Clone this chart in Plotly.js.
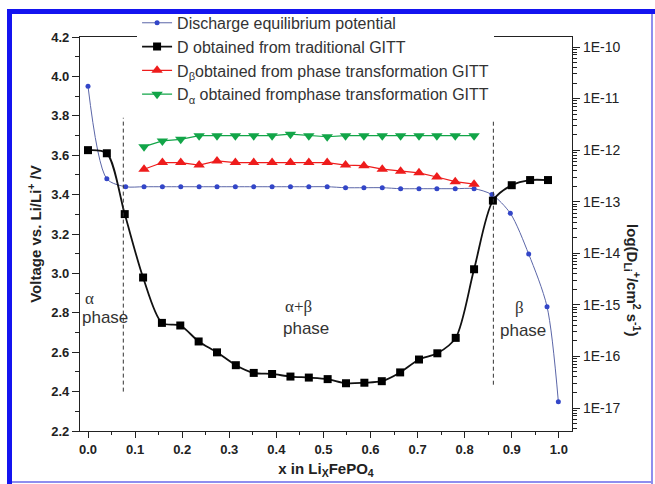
<!DOCTYPE html>
<html>
<head>
<meta charset="utf-8">
<script src="https://cdn.plot.ly/plotly-3.0.1.min.js"></script>
<style>
  html, body { margin: 0; padding: 0; background: #ffffff; }
  #wrap { position: relative; width: 655px; height: 484px; overflow: hidden; }
  #chart { width: 655px; height: 484px; }
  .frame { position: absolute; pointer-events: none; }
</style>
</head>
<body>
<div id="wrap">
  <div id="chart"></div>
  <div class="frame" style="left:7px;top:9px;width:648px;height:5px;background:#1414f0;"></div>
  <div class="frame" style="left:7px;top:9px;width:5px;height:475px;background:#1414f0;"></div>
  <div class="frame" style="left:651px;top:14px;width:2px;height:470px;background:#8e8eee;"></div>
  <div class="frame" style="left:12px;top:481px;width:641px;height:2px;background:#8e8eee;"></div>
</div>
<script>
// ---- data ----
const voltX = [0, 0.04, 0.08, 0.119, 0.158, 0.197, 0.236, 0.274, 0.313, 0.352, 0.391, 0.430, 0.469, 0.508,
               0.547, 0.586, 0.625, 0.664, 0.703, 0.741, 0.780, 0.820, 0.858, 0.897, 0.936, 0.975, 0.999];
const voltY = [3.95, 3.48, 3.44, 3.44, 3.44, 3.44, 3.44, 3.44, 3.44, 3.44, 3.44, 3.44, 3.44, 3.44,
               3.435, 3.435, 3.435, 3.43, 3.43, 3.43, 3.43, 3.43, 3.40, 3.305, 3.098, 2.831, 2.349];

const gittX = [0, 0.04, 0.078, 0.117, 0.157, 0.196, 0.235, 0.274, 0.314, 0.352, 0.391, 0.430, 0.469,
               0.509, 0.548, 0.587, 0.624, 0.663, 0.703, 0.742, 0.781, 0.820, 0.860, 0.900, 0.939, 0.977];
const gittD = [1.0e-12, 8.7e-13, 5.75e-14, 3.39e-15, 4.47e-16, 3.98e-16, 1.95e-16, 1.20e-16, 6.76e-17,
               4.79e-17, 4.57e-17, 4.07e-17, 3.89e-17, 3.63e-17, 3.02e-17, 3.09e-17, 3.31e-17, 4.90e-17,
               8.71e-17, 1.15e-16, 2.29e-16, 4.90e-15, 1.05e-13, 2.09e-13, 2.63e-13, 2.63e-13];

const phaseX = [0.119, 0.158, 0.197, 0.236, 0.274, 0.313, 0.352, 0.391, 0.430, 0.469, 0.508, 0.547,
                0.586, 0.625, 0.664, 0.703, 0.741, 0.780, 0.820];
const dBeta  = [4.27e-13, 5.75e-13, 5.75e-13, 5.13e-13, 6.17e-13, 5.75e-13, 5.75e-13, 5.75e-13, 5.75e-13,
                5.75e-13, 5.75e-13, 5.13e-13, 5.01e-13, 4.27e-13, 3.89e-13, 3.63e-13, 3.02e-13, 2.45e-13, 2.19e-13];
const dAlpha = [1.17e-12, 1.51e-12, 1.62e-12, 1.91e-12, 1.91e-12, 1.91e-12, 1.91e-12, 1.91e-12, 2.04e-12,
                1.91e-12, 1.82e-12, 1.91e-12, 1.91e-12, 1.91e-12, 1.91e-12, 1.91e-12, 1.91e-12, 1.91e-12, 1.91e-12];

const seriesNames = [
  'Discharge equilibrium potential',
  'D obtained from traditional GITT',
  'D<sub>β</sub>obtained from phase transformation GITT',
  'D<sub>α</sub> obtained fromphase transformation GITT'
];

const xTickVals = [0, 0.1, 0.2, 0.3, 0.4, 0.5, 0.6, 0.7, 0.8, 0.9, 1.0];
const xTickText = ['0.0', '0.1', '0.2', '0.3', '0.4', '0.5', '0.6', '0.7', '0.8', '0.9', '1.0'];
const vTickVals = [2.2, 2.4, 2.6, 2.8, 3.0, 3.2, 3.4, 3.6, 3.8, 4.0, 4.2];
const vTickText = ['2.2', '2.4', '2.6', '2.8', '3.0', '3.2', '3.4', '3.6', '3.8', '4.0', '4.2'];
const dTickVals = [1e-17, 1e-16, 1e-15, 1e-14, 1e-13, 1e-12, 1e-11, 1e-10];
const dTickText = ['1E-17', '1E-16', '1E-15', '1E-14', '1E-13', '1E-12', '1E-11', '1E-10'];
const dDecades = [-18, -17, -16, -15, -14, -13, -12, -11, -10];
const dMantissas = [2, 3, 4, 5, 6, 7, 8, 9];
const dMinorTicks = [];
dDecades.forEach(d => dMantissas.forEach(m => dMinorTicks.push(m * Math.pow(10, d))));

const phaseBoundX = [0.075, 0.861];
const phaseBoundTop = [3.79, 3.77];
const phaseBoundBottom = [2.40, 2.435];

const phaseLabels = [
  {text: 'α', x: 0.004, y: 2.875, serif: true},
  {text: 'phase', x: 0.037, y: 2.775, serif: false},
  {text: 'α+β', x: 0.448, y: 2.832, serif: true},
  {text: 'phase', x: 0.464, y: 2.722, serif: false},
  {text: 'β', x: 0.917, y: 2.826, serif: true},
  {text: 'phase', x: 0.924, y: 2.708, serif: false}
];

// ---- traces ----
const traces = [
  {
    x: voltX, y: voltY, name: seriesNames[0], yaxis: 'y', type: 'scatter', mode: 'lines+markers',
    line: {color: '#5b66a8', width: 1, shape: 'spline', smoothing: 0.8},
    marker: {symbol: 'circle', size: 5, color: '#3346c8'}
  },
  {
    x: gittX, y: gittD, name: seriesNames[1], yaxis: 'y2', type: 'scatter', mode: 'lines+markers',
    line: {color: '#111111', width: 1.8, shape: 'spline', smoothing: 0.8},
    marker: {symbol: 'square', size: 8, color: '#000000'}
  },
  {
    x: phaseX, y: dBeta, name: seriesNames[2], yaxis: 'y2', type: 'scatter', mode: 'lines+markers',
    line: {color: '#ee1c1c', width: 1.2},
    marker: {symbol: 'triangle-up', size: 10, color: '#ee1c1c'}
  },
  {
    x: phaseX, y: dAlpha, name: seriesNames[3], yaxis: 'y2', type: 'scatter', mode: 'lines+markers',
    line: {color: '#12a548', width: 1.2},
    marker: {symbol: 'triangle-down', size: 10, color: '#12a548'}
  }
];

const shapes = phaseBoundX.map((xv, i) => ({
  type: 'line', xref: 'x', yref: 'y', x0: xv, x1: xv, y0: phaseBoundBottom[i], y1: phaseBoundTop[i],
  line: {color: '#333333', width: 1, dash: '4px,3px'}
}));

const annotations = phaseLabels.map(p => ({
  text: p.text, x: p.x, y: p.y, xref: 'x', yref: 'y', showarrow: false,
  font: {family: p.serif ? '"Liberation Serif", "DejaVu Serif", serif' : 'Arial, "Liberation Sans", sans-serif',
         size: 17, color: '#333333'}
}));
annotations.push({
  text: '<b>log(D<sub>Li</sub><sup>+</sup>/cm<sup>2</sup> s<sup>-1</sup>)</b>',
  xref: 'paper', yref: 'paper', x: 1.124, y: 0.383, xanchor: 'center', yanchor: 'middle',
  showarrow: false, textangle: 90,
  font: {family: 'Arial, "Liberation Sans", sans-serif', size: 15, color: '#222222'}
});

const axisLine = {showline: true, linecolor: '#222222', linewidth: 1.3, zeroline: false, showgrid: false};

const layout = {
  width: 655, height: 484,
  margin: {l: 80, r: 83, t: 37, b: 53, pad: 0, autoexpand: false},
  paper_bgcolor: '#ffffff', plot_bgcolor: '#ffffff',
  font: {family: 'Arial, "Liberation Sans", sans-serif', color: '#222222'},
  showlegend: true,
  legend: {
    x: 0.116, y: 1.079, xanchor: 'left', yanchor: 'top',
    bgcolor: '#ffffff', borderwidth: 0,
    font: {size: 16, color: '#333333'},
    tracegroupgap: 0
  },
  xaxis: Object.assign({}, axisLine, {
    range: [-0.017, 1.028], mirror: true,
    tickmode: 'array', tickvals: xTickVals, ticktext: xTickText,
    ticks: 'outside', ticklen: 6, tickwidth: 1.2, tickcolor: '#222222',
    minor: {dtick: 0.05, tick0: 0, ticks: 'outside', ticklen: 3, tickwidth: 1.1, tickcolor: '#222222', showgrid: false},
    tickfont: {size: 13, color: '#222222', weight: 'bold'},
    title: {text: '<b>x in Li<sub>X</sub>FePO<sub>4</sub></b>', font: {size: 15, color: '#222222'}, standoff: 7}
  }),
  yaxis: Object.assign({}, axisLine, {
    range: [2.2, 4.2],
    tickmode: 'array', tickvals: vTickVals, ticktext: vTickText,
    ticks: 'outside', ticklen: 7, tickwidth: 1.2, tickcolor: '#222222',
    minor: {dtick: 0.1, tick0: 2.2, ticks: 'outside', ticklen: 4, tickwidth: 1.1, tickcolor: '#222222', showgrid: false},
    tickfont: {size: 13, color: '#222222', weight: 'bold'},
    title: {text: '<b>Voltage vs. Li/Li<sup>+</sup> /V</b>', font: {size: 15, color: '#222222'}, standoff: 5}
  }),
  yaxis2: Object.assign({}, axisLine, {
    overlaying: 'y', side: 'right', type: 'log',
    range: [-17.446, -9.806],
    tickmode: 'array', tickvals: dTickVals, ticktext: dTickText,
    ticks: 'outside', ticklen: 7, tickwidth: 1.2, tickcolor: '#222222',
    minor: {tickmode: 'array', tickvals: dMinorTicks, ticks: 'outside', ticklen: 4, tickwidth: 1, tickcolor: '#222222', showgrid: false},
    tickfont: {size: 14, color: '#222222'}
  }),
  shapes: shapes,
  annotations: annotations
};

Plotly.newPlot('chart', traces, layout, {displayModeBar: false, responsive: false});
</script>
</body>
</html>
